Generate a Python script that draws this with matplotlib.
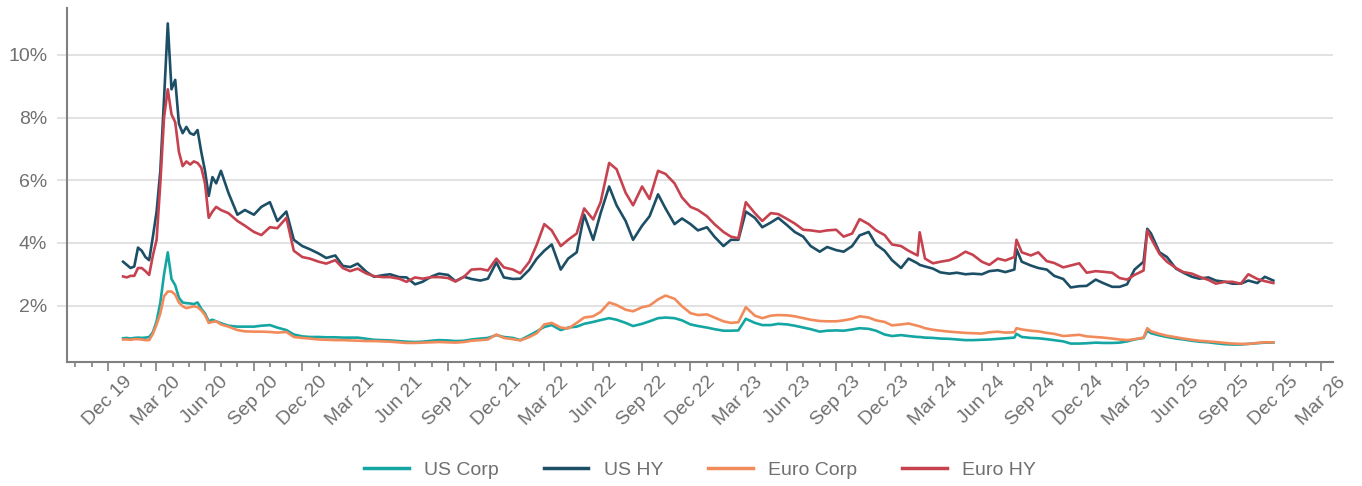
import pandas as pd
import matplotlib.pyplot as plt
import matplotlib.dates as mdates
from matplotlib.ticker import FuncFormatter

# -------------------------------------------
# Credit spreads: US / Euro, IG vs HY
# -------------------------------------------
# weekly through the Covid spike, then 1st/15th of each month,
# plus a few one-off spike days
weekly = pd.date_range('2019-12-30', '2020-06-22', freq='W-MON')
semi = pd.date_range('2020-07-01', '2025-12-01', freq='SMS')
extra = pd.to_datetime(['2024-02-05', '2024-08-05', '2025-04-08'])
dates = weekly.append(semi).append(extra).sort_values()

us_corp = [
    # 2020 weekly (Dec 30 - Jun 22)
    0.96, 0.97, 0.95, 0.97, 0.98, 0.97, 0.98, 1.00, 1.15, 1.50, 2.10, 3.00, 3.70,
    2.85, 2.65, 2.25, 2.10, 2.08, 2.07, 2.05, 2.10, 1.90, 1.75, 1.50, 1.55, 1.50,
    # 2020 H2
    1.44, 1.36, 1.33, 1.33, 1.33, 1.36, 1.38, 1.30, 1.22, 1.08, 1.02, 1.00,
    # 2021
    1.00, 0.99, 0.99, 0.98, 0.98, 0.98, 0.94, 0.91, 0.90, 0.89, 0.87, 0.85,
    0.84, 0.85, 0.88, 0.90, 0.89, 0.87, 0.88, 0.92, 0.95, 0.97, 1.06, 1.00,
    # 2022
    0.97, 0.90, 1.05, 1.18, 1.32, 1.38, 1.22, 1.30, 1.33, 1.42, 1.48, 1.54,
    1.60, 1.55, 1.45, 1.35, 1.42, 1.50, 1.60, 1.62, 1.60, 1.53, 1.40, 1.35,
    # 2023
    1.30, 1.25, 1.20, 1.20, 1.21, 1.58, 1.45, 1.38, 1.38, 1.42, 1.40, 1.36,
    1.30, 1.25, 1.17, 1.20, 1.21, 1.20, 1.24, 1.28, 1.26, 1.20, 1.08, 1.03,
    # 2024 (incl. Feb 5, Aug 5)
    1.06, 1.03, 1.00, 1.00, 0.98, 0.97, 0.95, 0.94, 0.92, 0.90, 0.90, 0.91, 0.92,
    0.94, 0.96, 0.98, 1.10, 1.00, 0.97, 0.96, 0.93, 0.90, 0.86, 0.79, 0.79, 0.80,
    # 2025 (incl. Apr 8)
    0.82, 0.81, 0.81, 0.82, 0.86, 0.92, 0.97, 1.20, 1.12, 1.05, 1.00, 0.95,
    0.92, 0.88, 0.85, 0.83, 0.80, 0.77, 0.76, 0.76, 0.78, 0.80, 0.82, 0.82,
]

us_hy = [
    3.40, 3.30, 3.20, 3.25, 3.85, 3.75, 3.55, 3.45, 4.20, 5.00, 6.30, 8.60, 11.00,
    8.90, 9.20, 7.80, 7.50, 7.70, 7.50, 7.45, 7.60, 6.90, 6.30, 5.50, 6.10, 5.90,
    6.30, 5.60, 4.90, 5.05, 4.90, 5.15, 5.30, 4.70, 5.00, 4.10, 3.90, 3.80,
    3.66, 3.52, 3.60, 3.27, 3.23, 3.34, 3.07, 2.92, 2.97, 3.00, 2.91, 2.90,
    2.68, 2.76, 2.93, 3.02, 2.98, 2.78, 2.92, 2.85, 2.80, 2.86, 3.38, 2.90,
    2.85, 2.86, 3.15, 3.50, 3.75, 3.95, 3.15, 3.50, 3.70, 4.90, 4.10, 4.95,
    5.80, 5.20, 4.70, 4.10, 4.55, 4.85, 5.55, 5.10, 4.60, 4.78, 4.60, 4.40,
    4.50, 4.20, 3.90, 4.10, 4.10, 5.00, 4.80, 4.50, 4.65, 4.80, 4.56, 4.35,
    4.20, 3.90, 3.72, 3.87, 3.77, 3.72, 3.90, 4.24, 4.35, 3.95, 3.75, 3.45,
    3.20, 3.50, 3.35, 3.30, 3.25, 3.18, 3.06, 3.02, 3.05, 3.00, 3.02, 3.00, 3.10,
    3.13, 3.07, 3.15, 3.80, 3.40, 3.28, 3.20, 3.15, 2.95, 2.85, 2.58, 2.62, 2.63,
    2.83, 2.72, 2.60, 2.60, 2.68, 3.15, 3.40, 4.45, 4.30, 3.70, 3.55, 3.18,
    3.05, 2.92, 2.86, 2.90, 2.80, 2.76, 2.70, 2.70, 2.80, 2.72, 2.92, 2.80,
]

euro_corp = [
    0.92, 0.92, 0.91, 0.93, 0.93, 0.92, 0.90, 0.90, 1.10, 1.40, 1.75, 2.30, 2.45,
    2.45, 2.35, 2.10, 1.98, 1.92, 1.95, 1.98, 1.95, 1.85, 1.70, 1.45, 1.48, 1.50,
    1.40, 1.33, 1.22, 1.18, 1.17, 1.17, 1.16, 1.14, 1.16, 1.00, 0.97, 0.95,
    0.92, 0.91, 0.90, 0.90, 0.89, 0.88, 0.87, 0.87, 0.86, 0.85, 0.83, 0.81,
    0.81, 0.82, 0.83, 0.84, 0.83, 0.82, 0.84, 0.88, 0.90, 0.92, 1.08, 0.97,
    0.93, 0.89, 1.00, 1.12, 1.40, 1.45, 1.30, 1.27, 1.45, 1.62, 1.66, 1.80,
    2.10, 2.02, 1.87, 1.82, 1.95, 2.00, 2.20, 2.32, 2.22, 1.98, 1.76, 1.70,
    1.72, 1.62, 1.50, 1.45, 1.47, 1.95, 1.68, 1.60, 1.68, 1.70, 1.69, 1.66,
    1.60, 1.55, 1.51, 1.50, 1.50, 1.53, 1.58, 1.66, 1.62, 1.53, 1.48, 1.37,
    1.40, 1.43, 1.36, 1.34, 1.28, 1.23, 1.20, 1.17, 1.15, 1.13, 1.12, 1.11, 1.15,
    1.17, 1.14, 1.15, 1.28, 1.24, 1.20, 1.18, 1.13, 1.10, 1.03, 1.05, 1.07, 1.02,
    1.00, 0.98, 0.95, 0.92, 0.90, 0.93, 0.98, 1.28, 1.18, 1.10, 1.04, 0.99,
    0.95, 0.91, 0.88, 0.86, 0.84, 0.81, 0.79, 0.78, 0.78, 0.81, 0.83, 0.83,
]

euro_hy = [
    2.93, 2.90, 2.95, 2.95, 3.20, 3.20, 3.10, 2.98, 3.60, 4.10, 5.90, 8.00, 8.90,
    8.10, 7.85, 6.90, 6.45, 6.60, 6.50, 6.60, 6.55, 6.40, 5.90, 4.80, 5.00, 5.15,
    5.05, 4.95, 4.70, 4.55, 4.35, 4.25, 4.50, 4.47, 4.80, 3.75, 3.55, 3.50,
    3.40, 3.34, 3.45, 3.20, 3.10, 3.18, 3.02, 2.94, 2.91, 2.91, 2.86, 2.76,
    2.90, 2.86, 2.91, 2.91, 2.88, 2.77, 2.92, 3.15, 3.17, 3.12, 3.50, 3.22,
    3.15, 3.03, 3.40, 3.95, 4.60, 4.40, 3.90, 4.10, 4.30, 5.10, 4.75, 5.30,
    6.55, 6.35, 5.60, 5.20, 5.80, 5.40, 6.30, 6.20, 5.90, 5.45, 5.15, 5.05,
    4.85, 4.60, 4.35, 4.20, 4.15, 5.30, 4.95, 4.70, 4.95, 4.92, 4.76, 4.62,
    4.42, 4.40, 4.36, 4.40, 4.42, 4.20, 4.30, 4.76, 4.60, 4.40, 4.25, 3.95,
    3.90, 3.75, 3.60, 4.34, 3.50, 3.35, 3.40, 3.45, 3.55, 3.72, 3.62, 3.40, 3.30,
    3.50, 3.44, 3.55, 4.10, 3.70, 3.60, 3.70, 3.42, 3.36, 3.22, 3.28, 3.35, 3.05,
    3.10, 3.08, 3.05, 2.88, 2.83, 2.98, 3.12, 4.40, 4.15, 3.65, 3.40, 3.20,
    3.07, 3.02, 2.92, 2.82, 2.70, 2.76, 2.76, 2.70, 3.00, 2.85, 2.78, 2.72,
]

series = {'US Corp': us_corp, 'US HY': us_hy, 'Euro Corp': euro_corp, 'Euro HY': euro_hy}
colors = ['#14A6A2', '#1C4F66', '#F28B5B', '#C7424F']
for name, vals in series.items():
    assert len(vals) == len(dates), (name, len(vals), len(dates))

plt.rcParams['font.family'] = ['Liberation Sans', 'DejaVu Sans']
grey = '#707070'

fig = plt.figure(figsize=(13.62, 4.86), dpi=100)
ax = fig.add_axes([0.049, 0.255, 0.930, 0.729])

for (name, vals), c in zip(series.items(), colors):
    ax.plot(dates, vals, color=c, linewidth=1.9, label=name)

ax.set_ylim(0.2, 11.5)
ax.set_xlim(pd.Timestamp('2019-09-15'), pd.Timestamp('2026-03-24'))
ax.set_yticks([2, 4, 6, 8, 10])
ax.yaxis.set_major_formatter(FuncFormatter(lambda v, p: f'{v:.0f}%'))
ax.grid(axis='y', color='#dadada', linewidth=1.1)
ax.set_axisbelow(True)

ax.xaxis.set_major_locator(mdates.MonthLocator(bymonth=[3, 6, 9, 12]))
ax.xaxis.set_minor_locator(mdates.MonthLocator())
ax.xaxis.set_major_formatter(mdates.DateFormatter('%b %y'))
plt.setp(ax.get_xticklabels(), rotation=45, ha='center')

ax.tick_params(axis='x', which='major', length=6.5, width=1.2, color='#808080',
               labelsize=14, labelcolor=grey, pad=1.5)
ax.tick_params(axis='x', which='minor', length=3.6, width=1.2, color='#808080')
ax.tick_params(axis='y', length=7, width=1.1, color='#dadada',
               labelsize=14, labelcolor=grey, pad=7)

for s in ['top', 'right']:
    ax.spines[s].set_visible(False)
for s in ['left', 'bottom']:
    ax.spines[s].set_color('#808080')
    ax.spines[s].set_linewidth(1.5)

leg = fig.legend(loc='center', bbox_to_anchor=(0.514, 0.033), ncol=4, frameon=False,
                 fontsize=14, handlelength=2.3, handletextpad=0.8, columnspacing=2.3)
for line in leg.get_lines():
    line.set_linewidth(2.5)
for t in leg.get_texts():
    t.set_color(grey)

plt.savefig('out.png', dpi=100)
